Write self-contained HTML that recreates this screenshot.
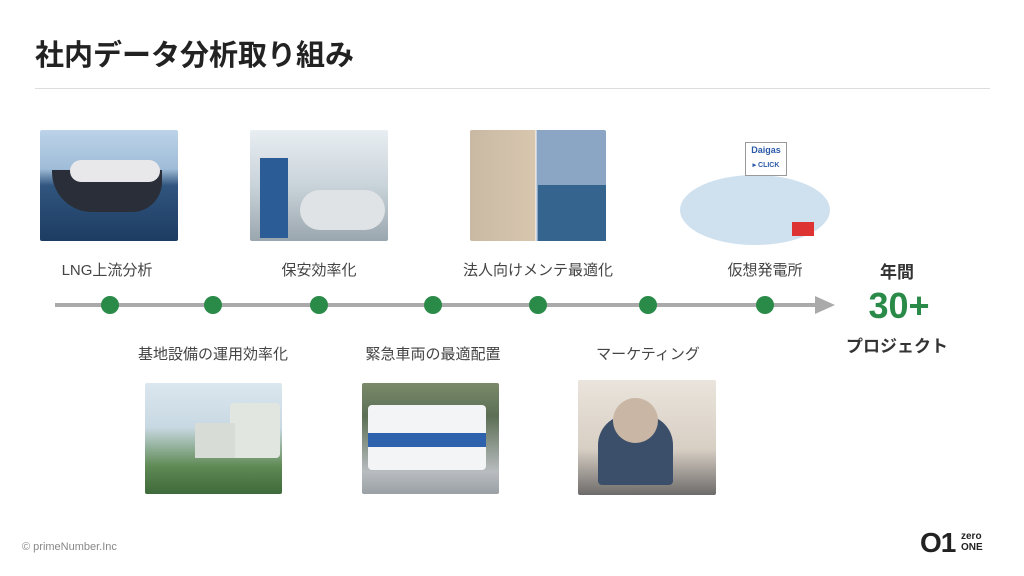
<!DOCTYPE html>
<html><head><meta charset="utf-8"><style>
body{margin:0;width:1024px;height:576px;background:#fff;position:relative;overflow:hidden;font-family:"Liberation Sans","Noto Sans CJK JP",sans-serif;color:#333}
.a{position:absolute}
.t{position:absolute;font-size:15px;transform:translateX(-50%);white-space:nowrap;color:#444}
.dot{position:absolute;width:18px;height:18px;border-radius:50%;background:#2a8a48;top:296px;margin-left:-9px}
.ph{position:absolute;border-radius:2px}
</style></head><body>
<div class="a" style="left:35px;top:32px;font-size:29px;font-weight:bold;color:#222">社内データ分析取り組み</div>
<div class="a" style="left:35px;top:88px;width:955px;height:1px;background:#ddd"></div>

<div class="ph" style="left:40px;top:130px;width:138px;height:111px;background:linear-gradient(#bcd3e8 0%,#9fbcd8 35%,#30557e 50%,#1d3c62 100%)"><div class="a" style="left:12px;top:40px;width:110px;height:42px;background:#2a2e38;border-radius:0 0 30px 40px"></div><div class="a" style="left:30px;top:30px;width:90px;height:22px;background:#e8e8ea;border-radius:12px"></div></div>
<div class="ph" style="left:250px;top:130px;width:138px;height:111px;background:linear-gradient(#e8eef2,#c9d3da 50%,#9aa6ae)"><div class="a" style="left:10px;top:28px;width:28px;height:80px;background:#2b5c96"></div><div class="a" style="left:50px;top:60px;width:85px;height:40px;background:#dfe3e6;border-radius:20px"></div></div>
<div class="ph" style="left:470px;top:130px;width:136px;height:111px;background:linear-gradient(90deg,#c9b9a4 0,#d8c6ae 48%,#fff 48%,#fff 49%,#8aa6c4 49%)"><div class="a" style="left:68px;top:55px;width:68px;height:56px;background:#35658f"></div></div>
<div class="a" style="left:680px;top:175px;width:150px;height:70px;border-radius:50%;background:#cfe0ef"></div>
<div class="a" style="left:745px;top:142px;width:40px;height:32px;border:1px solid #999;background:#fff;font-size:9px;text-align:center;color:#2b5aa8;font-weight:bold;line-height:14px">Daigas<br><span style="font-size:7px">▸ CLICK</span></div>
<div class="a" style="left:792px;top:222px;width:22px;height:14px;background:#d33"></div>

<div class="t" style="left:107px;top:259px">LNG上流分析</div>
<div class="t" style="left:319px;top:259px">保安効率化</div>
<div class="t" style="left:538px;top:259px">法人向けメンテ最適化</div>
<div class="t" style="left:765px;top:259px">仮想発電所</div>

<div class="a" style="left:55px;top:303px;width:765px;height:4px;background:#aaa"></div>
<div class="a" style="left:815px;top:296px;width:0;height:0;border-top:9px solid transparent;border-bottom:9px solid transparent;border-left:20px solid #aaa"></div>
<div class="dot" style="left:110px"></div><div class="dot" style="left:213px"></div><div class="dot" style="left:319px"></div><div class="dot" style="left:433px"></div><div class="dot" style="left:538px"></div><div class="dot" style="left:648px"></div><div class="dot" style="left:765px"></div>

<div class="t" style="left:213px;top:343px">基地設備の運用効率化</div>
<div class="t" style="left:433px;top:343px">緊急車両の最適配置</div>
<div class="t" style="left:648px;top:343px">マーケティング</div>

<div class="t" style="left:897px;top:258px;font-weight:bold;font-size:17px;color:#333">年間</div>
<div class="t" style="left:899px;top:285px;font-weight:bold;font-size:36px;color:#2a8a48">30+</div>
<div class="t" style="left:897px;top:332px;font-weight:bold;font-size:17px;color:#333">プロジェクト</div>

<div class="ph" style="left:145px;top:383px;width:137px;height:111px;background:linear-gradient(#dbe7ef 0,#c8d8e2 40%,#5f8a55 75%,#3f6a3a)"><div class="a" style="left:85px;top:20px;width:50px;height:55px;background:#e2e6e0;border-radius:4px"></div><div class="a" style="left:50px;top:40px;width:40px;height:35px;background:#d7dcd6"></div></div>
<div class="ph" style="left:362px;top:383px;width:137px;height:111px;background:linear-gradient(#7a8a6a 0,#5c6f55 30%,#b8bcbf 80%,#9aa0a4)"><div class="a" style="left:6px;top:22px;width:118px;height:65px;background:#f2f4f6;border-radius:4px"></div><div class="a" style="left:6px;top:50px;width:118px;height:14px;background:#2f62ad"></div></div>
<div class="ph" style="left:578px;top:380px;width:138px;height:115px;background:linear-gradient(#eae4dc,#d8cfc4 60%,#6d6b6a)"><div class="a" style="left:20px;top:35px;width:75px;height:70px;background:#3c4f6a;border-radius:30px 30px 4px 4px"></div><div class="a" style="left:35px;top:18px;width:45px;height:45px;background:#c9b6a4;border-radius:50%"></div></div>

<div class="a" style="left:22px;top:541px;font-size:11px;color:#888">© primeNumber.Inc</div>
<div class="a" style="left:920px;top:527px;font-size:28px;font-weight:bold;color:#222;letter-spacing:-1px">O1</div>
<div class="a" style="left:961px;top:531px;font-size:10px;font-weight:bold;color:#222;line-height:11px">zero<br>ONE</div>
</body></html>
